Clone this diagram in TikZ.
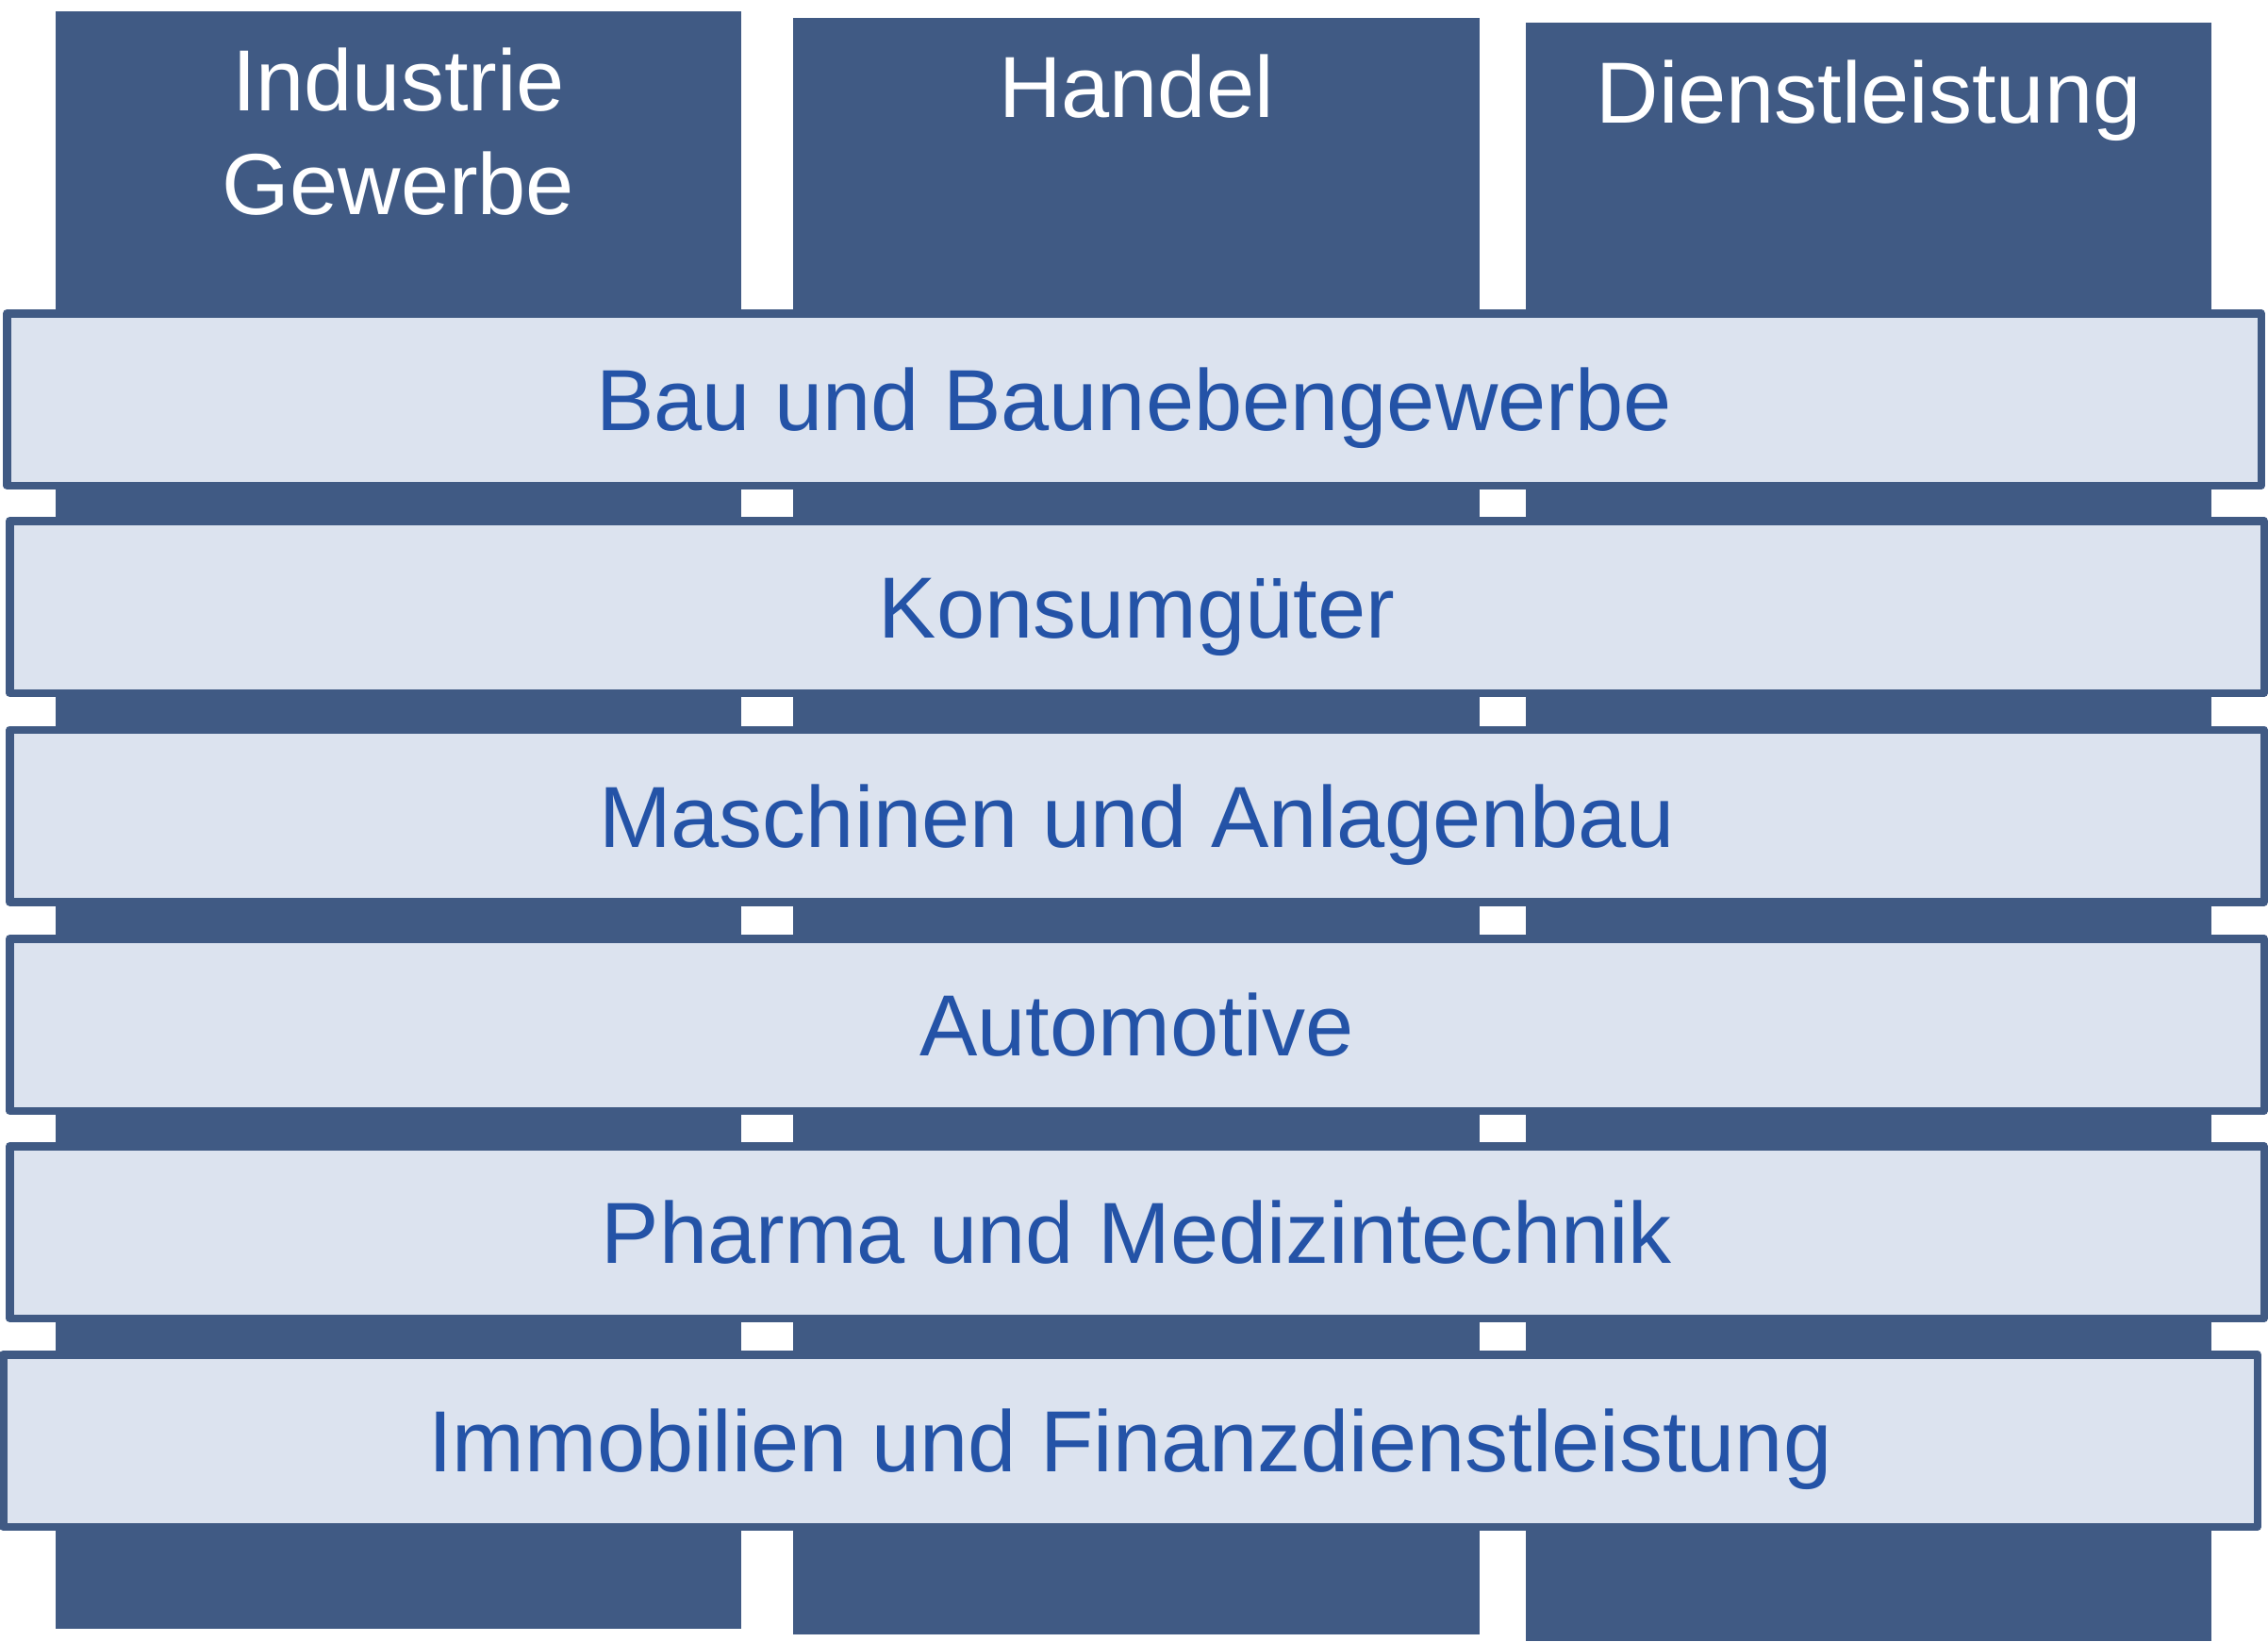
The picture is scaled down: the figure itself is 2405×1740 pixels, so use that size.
\documentclass[tikz,border=0pt]{standalone}
\usepackage{fontspec}
\setmainfont{Liberation Sans}
\definecolor{coldark}{HTML}{405A84}
\definecolor{bandfill}{HTML}{DCE3EF}
\definecolor{bandtext}{HTML}{2453A7}
\tikzset{
  colbox/.style={fill=coldark, draw=none, inner sep=0pt, minimum width=727pt, minimum height=1715pt},
  coltext/.style={text=white, inner sep=0pt, align=center, font=\fontsize{92}{110}\selectfont, anchor=base},
  band/.style={draw=coldark, line width=8.5pt, line join=round, fill=bandfill, inner sep=0pt,
    text height=66pt, text depth=0pt,
    minimum width=2390.5pt, minimum height=182.5pt, text=bandtext, font=\fontsize{92}{110}\selectfont},
}
\begin{document}
\begin{tikzpicture}[x=1pt,y=-1pt]
\useasboundingbox (0,0) rectangle (2405,1740);
\node[colbox] (c1) at (422.5,869.5) {};
\node[colbox, minimum width=728pt, minimum height=1714pt] (c2) at (1205,876) {};
\node[colbox, minimum height=1716pt] (c3) at (1981.5,882) {};
\node[coltext] (t1) at (422.5,227) {Industrie\\Gewerbe};
\node[coltext] (t2) at (1205,124) {Handel};
\node[coltext] (t3) at (1981.5,130) {Dienstleistung};
\node[band] (b1) at (1202.5,423.5) {Bau und Baunebengewerbe};
\node[band] (b2) at (1205.5,643.5) {Konsumgüter};
\node[band] (b3) at (1205.5,865) {Maschinen und Anlagenbau};
\node[band] (b4) at (1205.5,1086.5) {Automotive};
\node[band] (b5) at (1205.5,1306.5) {Pharma und Medizintechnik};
\node[band] (b6) at (1198.5,1527.5) {Immobilien und Finanzdienstleistung};
\end{tikzpicture}
\end{document}
